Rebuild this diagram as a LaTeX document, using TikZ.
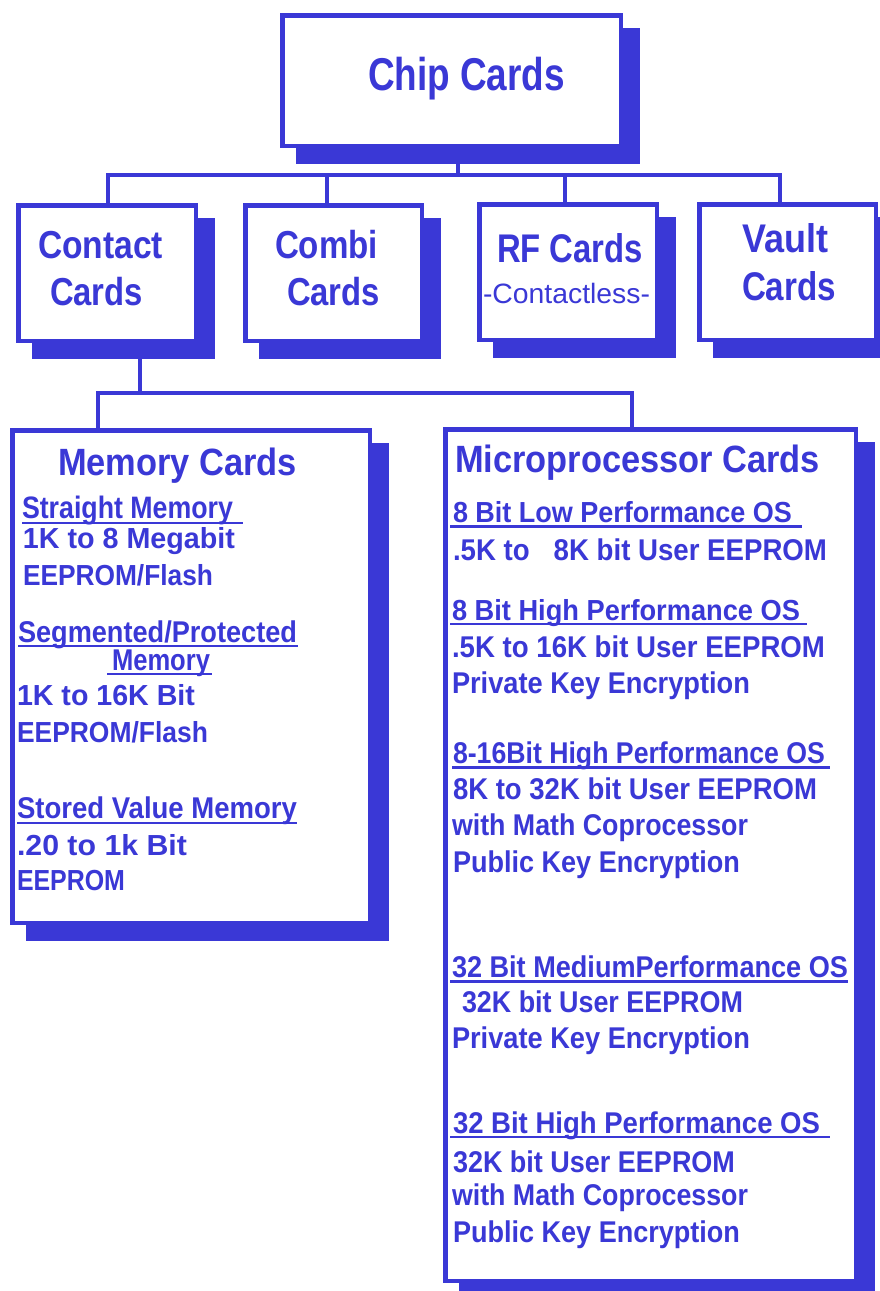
\documentclass[tikz,border=0pt]{standalone}
\usepackage{fontspec}
\setmainfont{Liberation Sans}
\usepackage{graphicx}
\definecolor{cblue}{RGB}{58,56,214}
\tikzset{
 cbox/.style={draw=cblue, line width=4.5pt, fill=white, inner sep=0pt, outer sep=0pt, rectangle},
 conn/.style={draw=cblue, line width=3.5pt},
 txt/.style={anchor=base west, inner sep=0pt, outer sep=0pt, text=cblue, font=\bfseries},
 uline/.style={draw=cblue, line width=2.2pt},
}
\newcommand\cardbox[5]{%
 \fill[cblue] ({#2+16},{-(#3)-15}) rectangle ({#4+17},{-(#5)-16});
 \node[cbox, minimum width={#4-#2-4.5}, minimum height={#5-#3-4.5}] (#1) at ({(#2+#4)/2},{-(#3+#5)/2}) {};
}
\newcommand\tline[6]{\node[txt] (#1) at (#2,-#3) {\resizebox{#4pt}{\height}{\fontsize{#5pt}{#5pt}\selectfont #6}};}
\newcommand\uln[4]{\draw[uline] ([xshift=#2pt,yshift=#3pt]#1.base west) -- ++(#4,0);}
\begin{document}
\begin{tikzpicture}[x=1pt,y=1pt]
\useasboundingbox (0,0) rectangle (879,-1291);
% bus coordinates
\coordinate (bus0) at (458,-175);
\coordinate (busL) at (108,-175);
\coordinate (busR) at (780,-175);
\coordinate (bcombi) at (327,-175);
\coordinate (brf) at (565,-175);
\coordinate (bus2) at (140,-393);
\coordinate (bus2L) at (98,-393);
\coordinate (bus2R) at (632,-393);
% boxes
\cardbox{chip}{280}{13}{623}{148}
\cardbox{contact}{16}{203}{198}{343}
\cardbox{combi}{243}{203}{424}{343}
\cardbox{rf}{477}{202}{659}{342}
\cardbox{vault}{697}{202}{878}{342}
\cardbox{memory}{10}{428}{372}{925}
\cardbox{micro}{443}{427}{858}{1283}
% connectors
\draw[conn] (chip.south -| bus0) -- (bus0);
\draw[conn] (busL |- contact.north) -- (busL) -- (busR) -- (busR |- vault.north);
\draw[conn] (bcombi) -- (bcombi |- combi.north);
\draw[conn] (brf) -- (brf |- rf.north);
\draw[conn] ([yshift=-16pt]contact.south -| bus2) -- (bus2);
\draw[conn] (bus2L |- memory.north) -- (bus2L) -- (bus2R) -- (bus2R |- micro.north);
% top texts
\tline{tchip}{368}{90}{197}{46}{Chip Cards}
\tline{tcontact1}{38}{258}{125}{39}{Contact}
\tline{tcontact2}{50}{305}{93}{39}{Cards}
\tline{tcombi1}{275}{258}{103}{39}{Combi}
\tline{tcombi2}{287}{305}{93}{39}{Cards}
\tline{trf1}{497}{262}{146}{40}{RF Cards}
\tline{trf2}{483}{303}{167}{28}{\mdseries -Contactless-}
\tline{tvault1}{742}{252}{86}{40}{Vault}
\tline{tvault2}{742}{300}{94}{40}{Cards}
% memory texts
\tline{tmem}{58}{475}{239}{38}{Memory Cards}
\tline{m1}{22}{518}{211}{31}{Straight Memory}
\uln{m1}{0}{-5}{221}
\tline{m2}{23}{548}{212}{29}{1K to 8 Megabit}
\tline{m3}{23}{585}{190}{29}{EEPROM/Flash}
\tline{m4}{18}{642}{279}{30}{Segmented/Protected}
\uln{m4}{0}{-4}{280}
\tline{m5}{112}{670}{98}{30}{Memory}
\uln{m5}{-5}{-4}{105}
\tline{m6}{17}{705}{178}{29}{1K to 16K Bit}
\tline{m7}{17}{742}{191}{29}{EEPROM/Flash}
\tline{m8}{17}{818}{280}{30}{Stored Value Memory}
\uln{m8}{0}{-5}{280}
\tline{m9}{17}{855}{170}{29}{.20 to 1k Bit}
\tline{m10}{17}{890}{108}{29}{EEPROM}
% micro texts
\tline{tmic}{455}{472}{365}{38}{Microprocessor Cards}
\tline{p1}{453}{522}{339}{29}{8 Bit Low Performance OS}
\uln{p1}{-3}{-4.5}{352}
\tline{p2}{453}{560}{374}{30}{.5K to\hspace{26pt}8K bit User EEPROM}
\tline{p3}{452}{620}{348}{29}{8 Bit High Performance OS}
\uln{p3}{-2}{-4}{357}
\tline{p4}{452}{657}{373}{30}{.5K to 16K bit User EEPROM}
\tline{p5}{452}{693}{298}{30}{Private Key Encryption}
\tline{p6}{453}{763}{372}{30}{8-16Bit High Performance OS}
\uln{p6}{-1}{-4.5}{378}
\tline{p7}{453}{799}{364}{30}{8K to 32K bit User EEPROM}
\tline{p8}{452}{835}{296}{30}{with Math Coprocessor}
\tline{p9}{453}{872}{287}{30}{Public Key Encryption}
\tline{p10}{452}{977}{396}{30}{32 Bit MediumPerformance OS}
\uln{p10}{-2}{-4.5}{398}
\tline{p11}{462}{1012}{281}{30}{32K bit User EEPROM}
\tline{p12}{452}{1048}{298}{30}{Private Key Encryption}
\tline{p13}{453}{1133}{367}{30}{32 Bit High Performance OS}
\uln{p13}{-3}{-4}{380}
\tline{p14}{453}{1172}{282}{30}{32K bit User EEPROM}
\tline{p15}{452}{1205}{296}{30}{with Math Coprocessor}
\tline{p16}{453}{1242}{287}{30}{Public Key Encryption}
\end{tikzpicture}
\end{document}
